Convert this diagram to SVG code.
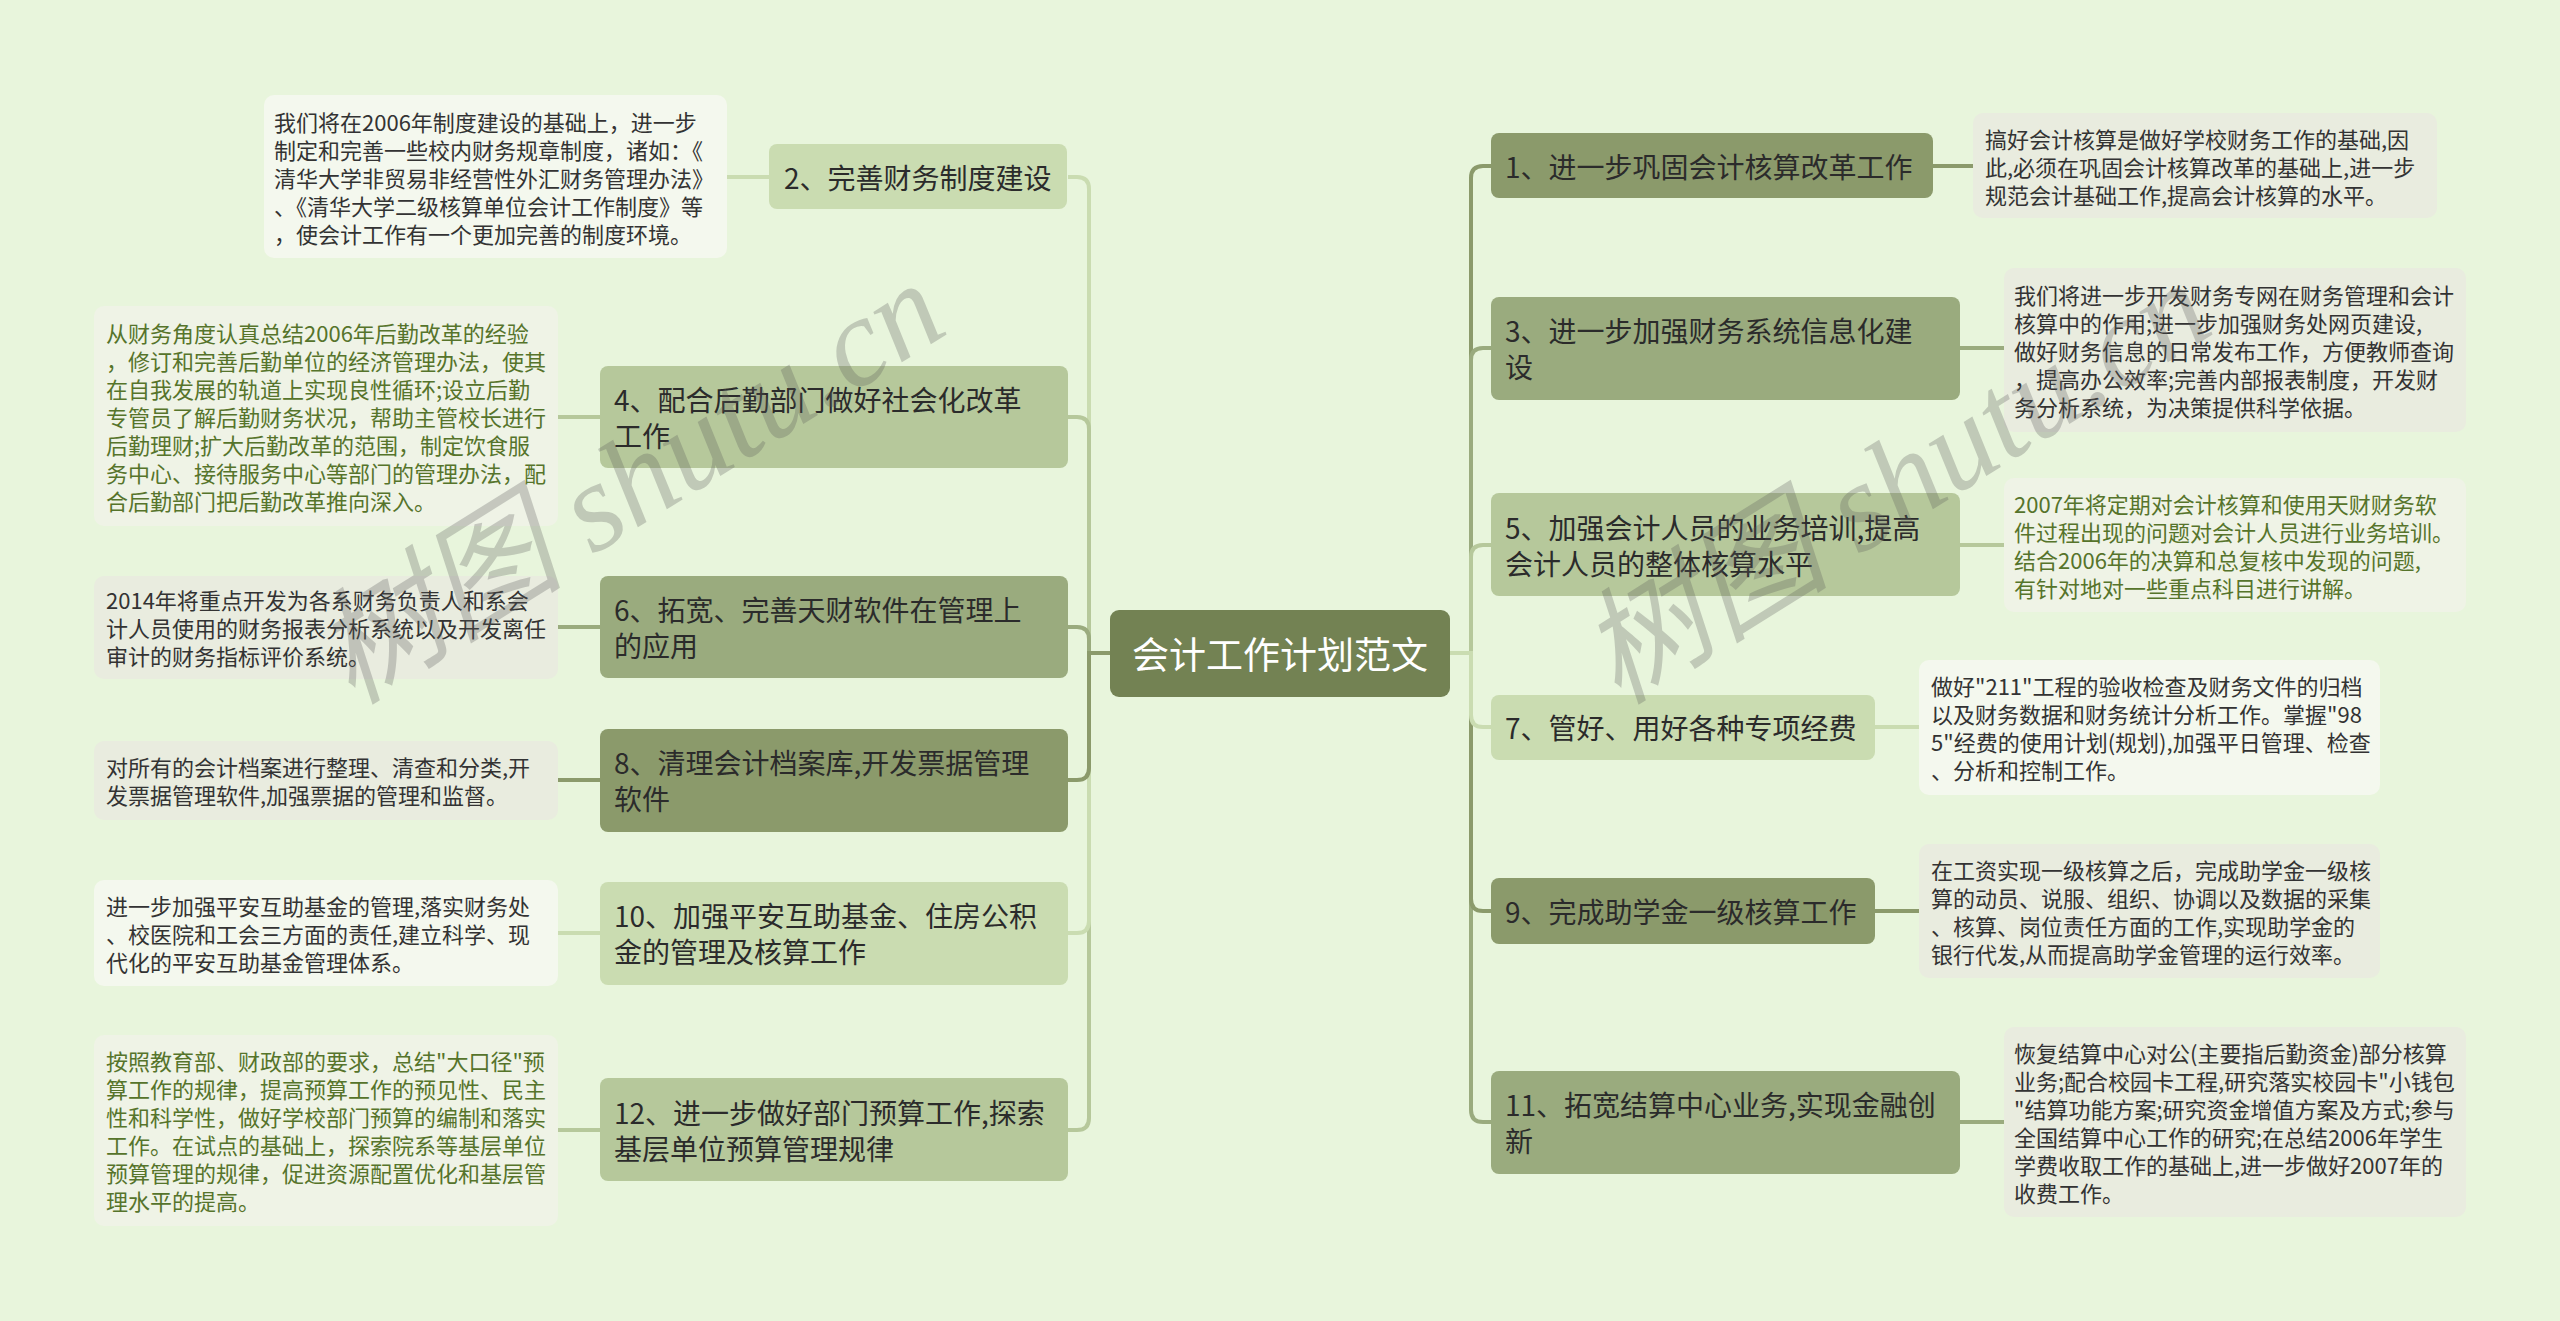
<svg xmlns="http://www.w3.org/2000/svg" width="2560" height="1321" viewBox="0 0 2560 1321">
<style>
text{font-family:"Noto Sans CJK SC","Noto Sans",sans-serif;dominant-baseline:central}
.nt{font-size:28px;fill:#2b2b2b}
.dt{font-size:22px;fill:#333333}
.dg{font-size:22px;fill:#56742b}
.ct{font-size:37px;fill:#ffffff}
.dark{fill:#8b9a6b}.med{fill:#9aab7e}.light{fill:#b6c89b}.lite{fill:#cadcb1}
.ddk{fill:#e9ecdf}.dlt{fill:#eff3e6}.dll{fill:#f4f8ee}
.c{fill:none;stroke-width:4}
.sdark{stroke:#8b9a6b}.smed{stroke:#9aab7e}.slight{stroke:#b6c89b}.slite{stroke:#cadcb1}
.wm{font-family:"Liberation Serif","Noto Sans CJK SC",serif;font-style:italic;font-size:126px;fill:#5a5a5a;opacity:0.28;dominant-baseline:auto}
</style>
<rect x="0" y="0" width="2560" height="1321" fill="#e8f5dc"/>
<g id="connectors">
<path class="c slite" d="M1110 653 H1089 V189 Q1089 177 1077 177 H1068"/>
<path class="c slight" d="M1110 653 H1089 V429 Q1089 417 1077 417 H1068"/>
<path class="c smed" d="M1110 653 H1089 V639 Q1089 627 1077 627 H1068"/>
<path class="c slight" d="M1110 653 H1089 V1118 Q1089 1130 1077 1130 H1068"/>
<path class="c slite" d="M1110 653 H1089 V921 Q1089 933 1077 933 H1068"/>
<path class="c sdark" d="M1110 653 H1089 V768 Q1089 780 1077 780 H1068"/>
<path class="c sdark" d="M1450 653 H1471 V178 Q1471 166 1483 166 H1491"/>
<path class="c smed" d="M1450 653 H1471 V360 Q1471 348 1483 348 H1491"/>
<path class="c slight" d="M1450 653 H1471 V557 Q1471 545 1483 545 H1491"/>
<path class="c smed" d="M1450 653 H1471 V1110 Q1471 1122 1483 1122 H1491"/>
<path class="c sdark" d="M1450 653 H1471 V899 Q1471 911 1483 911 H1491"/>
<path class="c slite" d="M1450 653 H1471 V715 Q1471 727 1483 727 H1491"/>
<path class="c slite" d="M727 177 H769"/>
<path class="c slight" d="M558 417 H600"/>
<path class="c smed" d="M558 627 H600"/>
<path class="c sdark" d="M558 780 H600"/>
<path class="c slite" d="M558 933 H600"/>
<path class="c slight" d="M558 1130 H600"/>
<path class="c sdark" d="M1933 166 H1973"/>
<path class="c smed" d="M1960 348 H2004"/>
<path class="c slight" d="M1960 545 H2004"/>
<path class="c slite" d="M1875 727 H1919"/>
<path class="c sdark" d="M1875 911 H1919"/>
<path class="c smed" d="M1960 1122 H2004"/>
</g>
<g id="center">
<rect x="1110" y="610" width="340" height="87" rx="9" fill="#738253"/>
<text class="ct" x="1280" y="653" text-anchor="middle">会计工作计划范文</text>
</g>
<g id="n2">
<rect class="lite" x="769" y="144" width="298" height="65" rx="8"/>
<text class="nt" x="784" y="177">2、完善财务制度建设</text>
</g>
<g id="d2">
<rect class="dll" x="264" y="95" width="463" height="163" rx="10"/>
<text class="dt" x="274"><tspan x="274" y="121">我们将在2006年制度建设的基础上，进一步</tspan><tspan x="274" y="149">制定和完善一些校内财务规章制度，诸如：《</tspan><tspan x="274" y="177">清华大学非贸易非经营性外汇财务管理办法》</tspan><tspan x="274" y="205">、《清华大学二级核算单位会计工作制度》等</tspan><tspan x="274" y="233">，使会计工作有一个更加完善的制度环境。</tspan></text>
</g>
<g id="n4">
<rect class="light" x="600" y="366" width="468" height="102" rx="8"/>
<text class="nt"><tspan x="614" y="399">4、配合后勤部门做好社会化改革</tspan><tspan x="614" y="435">工作</tspan></text>
</g>
<g id="d4">
<rect class="dlt" x="94" y="306" width="464" height="220" rx="10"/>
<text class="dg"><tspan x="106" y="332">从财务角度认真总结2006年后勤改革的经验</tspan><tspan x="106" y="360">，修订和完善后勤单位的经济管理办法，使其</tspan><tspan x="106" y="388">在自我发展的轨道上实现良性循环;设立后勤</tspan><tspan x="106" y="416">专管员了解后勤财务状况，帮助主管校长进行</tspan><tspan x="106" y="444">后勤理财;扩大后勤改革的范围，制定饮食服</tspan><tspan x="106" y="472">务中心、接待服务中心等部门的管理办法，配</tspan><tspan x="106" y="500">合后勤部门把后勤改革推向深入。</tspan></text>
</g>
<g id="n6">
<rect class="med" x="600" y="576" width="468" height="102" rx="8"/>
<text class="nt"><tspan x="614" y="609">6、拓宽、完善天财软件在管理上</tspan><tspan x="614" y="645">的应用</tspan></text>
</g>
<g id="d6">
<rect class="ddk" x="94" y="576" width="464" height="103" rx="10"/>
<text class="dt"><tspan x="106" y="599">2014年将重点开发为各系财务负责人和系会</tspan><tspan x="106" y="627">计人员使用的财务报表分析系统以及开发离任</tspan><tspan x="106" y="655">审计的财务指标评价系统。</tspan></text>
</g>
<g id="n8">
<rect class="dark" x="600" y="729" width="468" height="103" rx="8"/>
<text class="nt"><tspan x="614" y="762">8、清理会计档案库,开发票据管理</tspan><tspan x="614" y="798">软件</tspan></text>
</g>
<g id="d8">
<rect class="ddk" x="94" y="741" width="464" height="79" rx="10"/>
<text class="dt"><tspan x="106" y="766">对所有的会计档案进行整理、清查和分类,开</tspan><tspan x="106" y="794">发票据管理软件,加强票据的管理和监督。</tspan></text>
</g>
<g id="n10">
<rect class="lite" x="600" y="882" width="468" height="103" rx="8"/>
<text class="nt"><tspan x="614" y="915">10、加强平安互助基金、住房公积</tspan><tspan x="614" y="951">金的管理及核算工作</tspan></text>
</g>
<g id="d10">
<rect class="dll" x="94" y="880" width="464" height="106" rx="10"/>
<text class="dt"><tspan x="106" y="905">进一步加强平安互助基金的管理,落实财务处</tspan><tspan x="106" y="933">、校医院和工会三方面的责任,建立科学、现</tspan><tspan x="106" y="961">代化的平安互助基金管理体系。</tspan></text>
</g>
<g id="n12">
<rect class="light" x="600" y="1078" width="468" height="103" rx="8"/>
<text class="nt"><tspan x="614" y="1112">12、进一步做好部门预算工作,探索</tspan><tspan x="614" y="1148">基层单位预算管理规律</tspan></text>
</g>
<g id="d12">
<rect class="dlt" x="94" y="1035" width="464" height="191" rx="10"/>
<text class="dg"><tspan x="106" y="1060">按照教育部、财政部的要求，总结"大口径"预</tspan><tspan x="106" y="1088">算工作的规律，提高预算工作的预见性、民主</tspan><tspan x="106" y="1116">性和科学性，做好学校部门预算的编制和落实</tspan><tspan x="106" y="1144">工作。在试点的基础上，探索院系等基层单位</tspan><tspan x="106" y="1172">预算管理的规律，促进资源配置优化和基层管</tspan><tspan x="106" y="1200">理水平的提高。</tspan></text>
</g>
<g id="n1">
<rect class="dark" x="1491" y="133" width="442" height="65" rx="8"/>
<text class="nt" x="1505" y="166">1、进一步巩固会计核算改革工作</text>
</g>
<g id="d1">
<rect class="ddk" x="1973" y="113" width="464" height="105" rx="10"/>
<text class="dt"><tspan x="1985" y="138">搞好会计核算是做好学校财务工作的基础,因</tspan><tspan x="1985" y="166">此,必须在巩固会计核算改革的基础上,进一步</tspan><tspan x="1985" y="194">规范会计基础工作,提高会计核算的水平。</tspan></text>
</g>
<g id="n3">
<rect class="med" x="1491" y="297" width="469" height="103" rx="8"/>
<text class="nt"><tspan x="1505" y="330">3、进一步加强财务系统信息化建</tspan><tspan x="1505" y="366">设</tspan></text>
</g>
<g id="d3">
<rect class="ddk" x="2004" y="268" width="462" height="164" rx="10"/>
<text class="dt"><tspan x="2014" y="294">我们将进一步开发财务专网在财务管理和会计</tspan><tspan x="2014" y="322">核算中的作用;进一步加强财务处网页建设,</tspan><tspan x="2014" y="350">做好财务信息的日常发布工作，方便教师查询</tspan><tspan x="2014" y="378">，提高办公效率;完善内部报表制度，开发财</tspan><tspan x="2014" y="406">务分析系统，为决策提供科学依据。</tspan></text>
</g>
<g id="n5">
<rect class="light" x="1491" y="493" width="469" height="103" rx="8"/>
<text class="nt"><tspan x="1505" y="527">5、加强会计人员的业务培训,提高</tspan><tspan x="1505" y="563">会计人员的整体核算水平</tspan></text>
</g>
<g id="d5">
<rect class="dlt" x="2004" y="478" width="462" height="134" rx="10"/>
<text class="dg"><tspan x="2014" y="503">2007年将定期对会计核算和使用天财财务软</tspan><tspan x="2014" y="531">件过程出现的问题对会计人员进行业务培训。</tspan><tspan x="2014" y="559">结合2006年的决算和总复核中发现的问题,</tspan><tspan x="2014" y="587">有针对地对一些重点科目进行讲解。</tspan></text>
</g>
<g id="n7">
<rect class="lite" x="1491" y="695" width="384" height="65" rx="8"/>
<text class="nt" x="1505" y="727">7、管好、用好各种专项经费</text>
</g>
<g id="d7">
<rect class="dll" x="1919" y="660" width="461" height="135" rx="10"/>
<text class="dt"><tspan x="1931" y="685">做好"211"工程的验收检查及财务文件的归档</tspan><tspan x="1931" y="713">以及财务数据和财务统计分析工作。掌握"98</tspan><tspan x="1931" y="741">5"经费的使用计划(规划),加强平日管理、检查</tspan><tspan x="1931" y="769">、分析和控制工作。</tspan></text>
</g>
<g id="n9">
<rect class="dark" x="1491" y="878" width="384" height="66" rx="8"/>
<text class="nt" x="1505" y="911">9、完成助学金一级核算工作</text>
</g>
<g id="d9">
<rect class="ddk" x="1919" y="844" width="461" height="134" rx="10"/>
<text class="dt"><tspan x="1931" y="869">在工资实现一级核算之后，完成助学金一级核</tspan><tspan x="1931" y="897">算的动员、说服、组织、协调以及数据的采集</tspan><tspan x="1931" y="925">、核算、岗位责任方面的工作,实现助学金的</tspan><tspan x="1931" y="953">银行代发,从而提高助学金管理的运行效率。</tspan></text>
</g>
<g id="n11">
<rect class="med" x="1491" y="1071" width="469" height="103" rx="8"/>
<text class="nt"><tspan x="1505" y="1104">11、拓宽结算中心业务,实现金融创</tspan><tspan x="1505" y="1140">新</tspan></text>
</g>
<g id="d11">
<rect class="ddk" x="2004" y="1027" width="462" height="190" rx="10"/>
<text class="dt"><tspan x="2014" y="1052">恢复结算中心对公(主要指后勤资金)部分核算</tspan><tspan x="2014" y="1080">业务;配合校园卡工程,研究落实校园卡"小钱包</tspan><tspan x="2014" y="1108">"结算功能方案;研究资金增值方案及方式;参与</tspan><tspan x="2014" y="1136">全国结算中心工作的研究;在总结2006年学生</tspan><tspan x="2014" y="1164">学费收取工作的基础上,进一步做好2007年的</tspan><tspan x="2014" y="1192">收费工作。</tspan></text>
</g>
<g id="watermark">
<text class="wm" transform="translate(352,706) rotate(-32)">树图 shutu.cn</text>
<text class="wm" transform="translate(1618,706) rotate(-32)">树图 shutu.cn</text>
</g>
</svg>
